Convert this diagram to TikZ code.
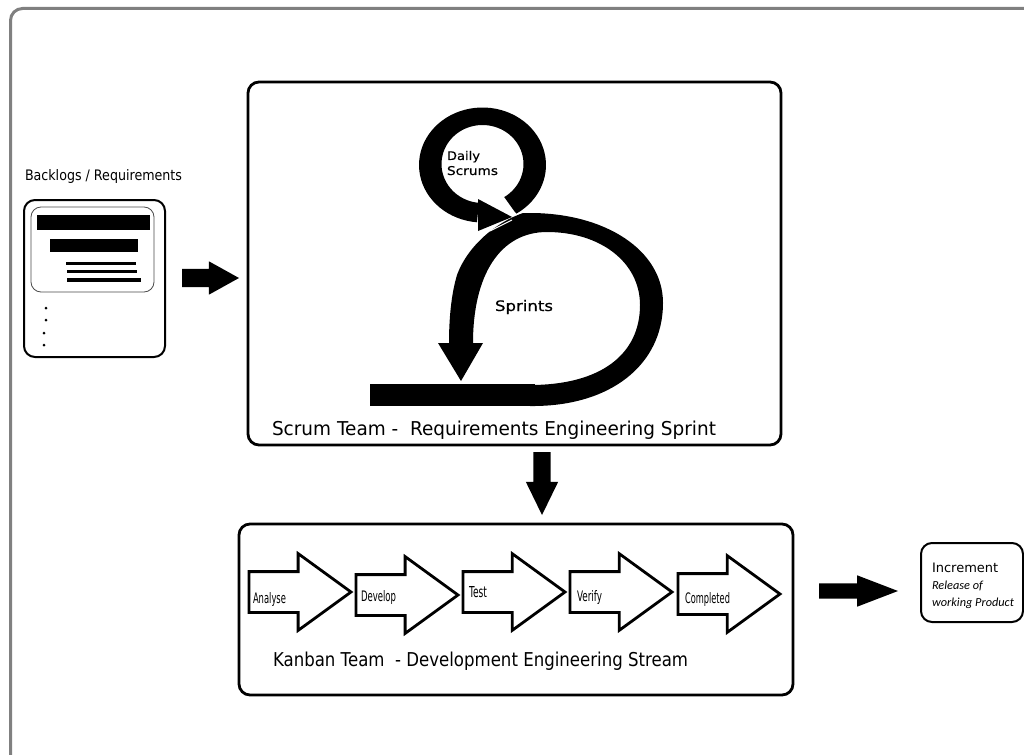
\documentclass[tikz,border=0pt]{standalone}
\usepackage{fontspec}
\setmainfont{DejaVu Sans}
\newfontfamily\carlito{Carlito}
\newfontfamily\semibold[FakeBold=0.4]{DejaVu Sans}
\usetikzlibrary{shapes.arrows}
\tikzset{
  x=1pt,y=-1pt,
  blockarrow/.style={shape=single arrow,fill=black,draw=none,inner xsep=0pt,outer sep=0pt,
    single arrow head indent=0pt,anchor=tip},
  outlinearrow/.style={shape=single arrow,fill=white,draw=black,line width=2.8pt,inner xsep=0pt,inner ysep=19pt,outer sep=0pt,
    single arrow head indent=0pt,anchor=tip,minimum height=102pt,minimum width=74pt,
    single arrow head extend=18pt,single arrow tip angle=72},
  frame/.style={draw=black,line width=2.8pt,fill=white,rounded corners=11pt,inner sep=0pt,outer sep=0pt},
  ink/.style={fill=black,draw=none},
  label/.style={inner sep=0pt,outer sep=0pt,anchor=base west},
}
\newcommand{\narrow}[3]{\resizebox{#1pt}{#2pt}{#3}}
\begin{document}
\begin{tikzpicture}
\useasboundingbox (0,0) rectangle (1024,754);
\fill[white] (0,0) rectangle (1024,754);
% outer frame
\node[draw=black!50,line width=3pt,rounded corners=12pt,inner sep=0pt,outer sep=0pt,minimum width=1040pt,minimum height=768pt,anchor=north west] (outer) at (10.5,8.5) {};
% backlog
\node[label] (backlogtitle) at (25,180) {\narrow{157}{11}{Backlogs / Requirements}};
\node[frame,line width=2pt,minimum width=141pt,minimum height=157pt] (backlog) at (94.5,278.5) {};
\node[draw=black!70,line width=0.8pt,rounded corners=10pt,inner sep=0pt,minimum width=123pt,minimum height=85pt] (card) at (92.5,249.5) {};
\fill[ink] (37,215) rectangle (150,230);
\fill[ink] (50,239) rectangle (138,252);
\fill[ink] (66,262) rectangle (136,265);
\fill[ink] (67,270) rectangle (137,273);
\fill[ink] (67,278) rectangle (141,282);
\fill[ink] (46,308) circle[radius=1.5pt];
\fill[ink] (46,320) circle[radius=1.5pt];
\fill[ink] (44,333) circle[radius=1.5pt];
\fill[ink] (44,345) circle[radius=1.5pt];
% scrum box
\node[frame,minimum width=533pt,minimum height=363pt] (scrum) at (514.5,263.5) {};
\node[label] (scrumlabel) at (272,435) {\narrow{444}{14.5}{Scrum Team -\ \ Requirements Engineering Sprint}};
% sprint curve
\fill[ink] (370,383.5) rectangle (535,406);
\fill[ink] (530,406) .. controls (610,407) and (663,365) .. (663,303)
  .. controls (663,250) and (605,213) .. (530,213) -- (523,213)
  .. controls (497,222) and (468,245) .. (457,275)
  .. controls (451,295) and (449,320) .. (449,343) -- (473,343)
  .. controls (473,275) and (500,232) .. (547,232)
  .. controls (600,232) and (640,262) .. (640,305)
  .. controls (640,355) and (600,385) .. (530,385) -- cycle;
\fill[ink] (438,343) -- (483,343) -- (461,381) -- cycle;
% daily arc
\fill[ink] plot[domain=-265:58,samples=70] ({482.5+63.5*cos(\x)},{165+57.5*sin(\x)})
  -- plot[domain=58:-265,samples=70] ({482.5+41*cos(\x)},{164+39*sin(\x)}) -- cycle;
\fill[ink] (478,199) -- (512,217) -- (478,231) -- cycle;
\draw[white,line width=1pt] (490,231) -- (512,220);
\draw[white,line width=1pt] (506,205) -- (517,215);
\node[label] (daily) at (447,160) {\narrow{33}{9}{\semibold Daily}};
\node[label] (scrums) at (447,175) {\narrow{51}{9}{\semibold Scrums}};
\node[label] (sprints) at (495,311) {\narrow{58}{11}{\semibold Sprints}};
% block arrows
\node[blockarrow,inner ysep=9pt,minimum height=57pt,minimum width=33pt,single arrow head extend=7.5pt,single arrow tip angle=58] (a1) at (239,278) {};
\node[blockarrow,inner ysep=8.5pt,rotate=-90,minimum height=63pt,minimum width=32pt,single arrow head extend=7.5pt,single arrow tip angle=52] (a2) at (542,515) {};
\node[blockarrow,inner ysep=7.5pt,minimum height=79pt,minimum width=31pt,single arrow head extend=8pt,single arrow tip angle=42] (a3) at (898,591) {};
% kanban
\node[frame,minimum width=554pt,minimum height=171pt] (kanban) at (516,609.5) {};
\node[outlinearrow] (k1) at (351,592) {};
\node[outlinearrow] (k2) at (458,595) {};
\node[outlinearrow] (k3) at (565,592) {};
\node[outlinearrow] (k4) at (672,592) {};
\node[outlinearrow] (k5) at (780,594) {};
\node[label] (t1) at (253,603) {\narrow{33}{11}{Analyse}};
\node[label] (t2) at (361,601) {\narrow{35}{11}{Develop}};
\node[label] (t3) at (469,597) {\narrow{18}{11}{Test}};
\node[label] (t4) at (577,601) {\narrow{25}{11}{Verify}};
\node[label] (t5) at (685,603) {\narrow{45}{11}{Completed}};
\node[label] (kanbanlabel) at (273,666) {\narrow{415}{14.5}{Kanban Team\ \ - Development Engineering Stream}};
% increment
\node[frame,line width=2pt,minimum width=102pt,minimum height=79pt] (inc) at (972,582.5) {};
\node[label,font=\fontsize{13}{15}\selectfont] (inc1) at (932,572) {Increment};
\node[label,font=\carlito\fontsize{12.3}{14}\selectfont\itshape] (inc2) at (932,589) {Release of};
\node[label,font=\carlito\fontsize{12.3}{14}\selectfont\itshape] (inc3) at (932,606) {working Product};
\end{tikzpicture}
\end{document}
